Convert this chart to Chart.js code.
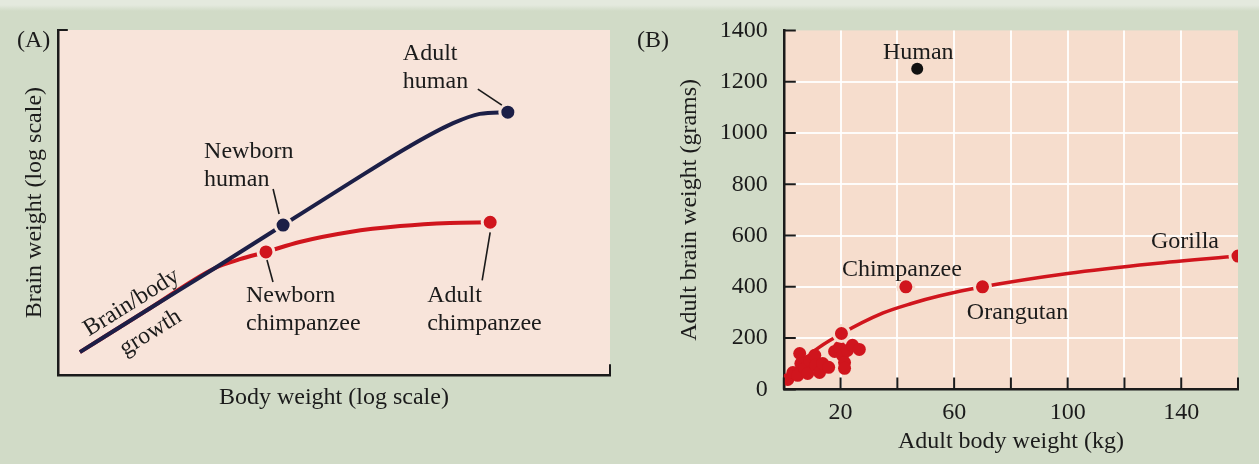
<!DOCTYPE html>
<html>
<head>
<meta charset="utf-8">
<script src="https://cdn.jsdelivr.net/npm/chart.js@4.4.1/dist/chart.umd.min.js"></script>
<style>
  html, body { margin: 0; padding: 0; }
  body {
    width: 1259px; height: 464px; overflow: hidden; position: relative;
    background: linear-gradient(to bottom, #e4e9de 0, #e4e9de 5px, rgba(0,0,0,0) 11px), #d1dbc7;
  }
  canvas { position: absolute; top: 0; }
  #growthChart { left: 0; }
  #primateChart { left: 625px; }
</style>
</head>
<body>
<canvas id="growthChart" width="625" height="464"></canvas>
<canvas id="primateChart" width="634" height="464"></canvas>
<script>
// Panel A - growth curves, arbitrary log units (the original has no tick values)
const humanGrowthX = [4, 16.7, 28.4, 40.8, 52.9, 63.8, 71.6, 76.4, 81.5];
const humanGrowthY = [6.7, 19.4, 31.0, 43.5, 55.7, 66.4, 73.0, 75.7, 76.2];
const chimpGrowthX = [4, 16.7, 28.4, 33.0, 37.7, 43.8, 52.9, 62.0, 71.0, 78.3];
const chimpGrowthY = [6.7, 19.4, 31.0, 33.6, 35.7, 38.6, 41.5, 43.2, 44.1, 44.3];
const humanStages = ["Newborn human", "Adult human"];
const humanStageX = [40.8, 81.5];
const humanStageY = [43.5, 76.2];
const chimpStages = ["Newborn chimpanzee", "Adult chimpanzee"];
const chimpStageX = [37.7, 78.3];
const chimpStageY = [35.7, 44.3];

// Panel B - adult brain weight (g) vs adult body weight (kg)
const otherPrimateBody = [1.4, 3.2, 4.9, 5.6, 6.0, 7.4, 8.4, 9.1, 10.9, 11.2, 12.6, 13.7, 15.8, 17.9, 19.6, 20.7, 21.4, 21.4, 22.4, 24.2, 26.6];
const otherPrimateBrain = [39, 66, 55, 140, 101, 82, 62, 113, 133, 94, 66, 101, 86, 148, 164, 133, 105, 82, 152, 172, 156];
const apeNames = ["", "Chimpanzee", "Orangutan", "Gorilla"];
const apeBody = [20.3, 43, 70, 160];
const apeBrain = [218, 400, 400, 520];
const humanBody = [47];
const humanBrain = [1250];
const fitBody = [1, 5, 11, 20, 35, 45, 55, 70, 100, 130, 160];
const fitBrain = [20, 85, 152, 215, 298, 335, 365, 400, 452, 490, 520];
const bodyTicks = [0, 20, 40, 60, 80, 100, 120, 140, 160];
const brainTicks = [0, 200, 400, 600, 800, 1000, 1200, 1400];

const FONT = '"Liberation Serif", "Times New Roman", serif';
const INK = '#1b1b1b';
const NAVY = '#1c1f47';
const RED = '#d0151d';

const pts = (xs, ys) => xs.map((x, i) => ({ x: x, y: ys[i] }));

// fills the plot area and writes the panel letter
const panelPlugin = {
  id: 'panel',
  beforeDraw(chart, args, opts) {
    const { ctx, chartArea: a } = chart;
    ctx.save();
    ctx.fillStyle = opts.fill;
    ctx.fillRect(a.left, a.top, a.right - a.left, a.bottom - a.top);
    ctx.fillStyle = INK;
    ctx.font = '24px ' + FONT;
    ctx.textBaseline = 'alphabetic';
    ctx.fillText(opts.tag, opts.tagX, 47);
    ctx.restore();
  }
};

// text labels and leader lines, placed relative to data points
const notesPlugin = {
  id: 'notes',
  afterDatasetsDraw(chart, args, opts) {
    const ctx = chart.ctx;
    const xs = chart.scales.x, ys = chart.scales.y;
    ctx.save();
    ctx.fillStyle = INK;
    ctx.strokeStyle = INK;
    ctx.font = '24px ' + FONT;
    ctx.textBaseline = 'alphabetic';
    opts.items.forEach(n => {
      const px = xs.getPixelForValue(n.x), py = ys.getPixelForValue(n.y);
      if (n.leader) {
        ctx.lineWidth = 1.6;
        ctx.beginPath();
        ctx.moveTo(px + n.leader[0], py + n.leader[1]);
        ctx.lineTo(px + n.leader[2], py + n.leader[3]);
        ctx.stroke();
      }
      ctx.save();
      ctx.translate(px + n.dx, py + n.dy);
      if (n.along) {
        const d = chart.getDatasetMeta(n.along).data;
        ctx.rotate(Math.atan2(d[2].y - d[0].y, d[2].x - d[0].x));
      }
      ctx.textAlign = n.align || 'left';
      n.lines.forEach((t, i) => ctx.fillText(t, 0, i * 28));
      ctx.restore();
    });
    ctx.restore();
  }
};

// inward tick marks (panel B) and axis end caps (panel A)
const ticksPlugin = {
  id: 'inTicks',
  afterDatasetsDraw(chart, args, opts) {
    const { ctx, chartArea: a } = chart;
    ctx.save();
    ctx.strokeStyle = INK;
    ctx.lineWidth = 2;
    ctx.beginPath();
    if (opts.caps) {
      ctx.moveTo(a.left, a.top); ctx.lineTo(a.left + 10, a.top);
      ctx.moveTo(a.right, a.bottom); ctx.lineTo(a.right, a.bottom - 11);
    } else {
      chart.scales.x.ticks.forEach(t => {
        const p = chart.scales.x.getPixelForValue(t.value);
        ctx.moveTo(p, a.bottom); ctx.lineTo(p, a.bottom - 12);
      });
      chart.scales.y.ticks.forEach(t => {
        const p = chart.scales.y.getPixelForValue(t.value);
        ctx.moveTo(a.left, p); ctx.lineTo(a.left + 12, p);
      });
    }
    ctx.stroke();
    ctx.restore();
  }
};

const titleFont = { family: FONT, size: 24 };

// Panel A
const growthChart = new Chart(document.getElementById('growthChart'), {
  type: 'scatter',
  data: {
    datasets: [
      { label: 'human stages', data: pts(humanStageX, humanStageY), backgroundColor: NAVY,
        borderColor: '#f8e4da', borderWidth: 3, pointRadius: 8 },
      { label: 'chimp stages', data: pts(chimpStageX, chimpStageY), backgroundColor: RED,
        borderColor: '#f8e4da', borderWidth: 3, pointRadius: 8 },
      { label: 'human', data: pts(humanGrowthX, humanGrowthY), showLine: true, pointRadius: 0,
        borderColor: NAVY, borderWidth: 4, cubicInterpolationMode: 'monotone' },
      { label: 'chimp', data: pts(chimpGrowthX, chimpGrowthY), showLine: true, pointRadius: 0,
        borderColor: RED, borderWidth: 4, cubicInterpolationMode: 'monotone' }
    ]
  },
  options: {
    responsive: false,
    animation: false,
    layout: { padding: { left: 16, top: 30, right: 15, bottom: 48 } },
    scales: {
      x: {
        min: 0, max: 100,
        ticks: { display: false },
        grid: { display: false, drawTicks: false },
        border: { display: true, color: INK, width: 2.5 },
        title: { display: true, text: 'Body weight (log scale)', color: INK, font: titleFont,
                 padding: { top: 8, bottom: 4 } }
      },
      y: {
        min: 0, max: 100,
        ticks: { display: false },
        grid: { display: false, drawTicks: false },
        border: { display: true, color: INK, width: 2.5 },
        title: { display: true, text: 'Brain weight (log scale)', color: INK, font: titleFont,
                 padding: { top: 4, bottom: 9 } }
      }
    },
    plugins: {
      legend: { display: false },
      tooltip: { enabled: false },
      panel: { fill: '#f8e4da', tag: '(A)', tagX: 17 },
      inTicks: { caps: true },
      notes: {
        items: [
          { x: humanStageX[0], y: humanStageY[0], lines: ['Newborn', 'human'], dx: -79, dy: -67,
            leader: [-10, -36, -4, -11] },
          { x: humanStageX[1], y: humanStageY[1], lines: ['Adult', 'human'], dx: -105, dy: -52,
            leader: [-30, -23, -6, -7] },
          { x: chimpStageX[0], y: chimpStageY[0], lines: ['Newborn', 'chimpanzee'], dx: -20, dy: 50,
            leader: [1, 8, 7, 30] },
          { x: chimpStageX[1], y: chimpStageY[1], lines: ['Adult', 'chimpanzee'], dx: -63, dy: 80,
            leader: [0, 10, -8, 58] },
          { x: humanGrowthX[0], y: humanGrowthY[0], lines: ['Brain/body'], dx: 55, dy: -44,
            align: 'center', along: 2 },
          { x: humanGrowthX[0], y: humanGrowthY[0], lines: ['growth'], dx: 74, dy: -14,
            align: 'center', along: 2 }
        ]
      }
    }
  },
  plugins: [panelPlugin, ticksPlugin, notesPlugin]
});

// Panel B
const primateChart = new Chart(document.getElementById('primateChart'), {
  type: 'scatter',
  data: {
    datasets: [
      { label: 'Human', data: pts(humanBody, humanBrain), backgroundColor: '#111111',
        borderWidth: 0, pointRadius: 6 },
      { label: 'apes', data: pts(apeBody, apeBrain), backgroundColor: RED,
        borderColor: '#f6ddcd', borderWidth: 3, pointRadius: 8 },
      { label: 'other primates', data: pts(otherPrimateBody, otherPrimateBrain), backgroundColor: RED,
        borderWidth: 0, pointRadius: 6.5 },
      { label: 'fit', data: pts(fitBody, fitBrain), showLine: true, pointRadius: 0,
        borderColor: RED, borderWidth: 3.5, cubicInterpolationMode: 'monotone' }
    ]
  },
  options: {
    responsive: false,
    animation: false,
    layout: { padding: { left: 46, top: 30, right: 21, bottom: 4 } },
    scales: {
      x: {
        min: bodyTicks[0], max: bodyTicks[bodyTicks.length - 1],
        afterBuildTicks: s => { s.ticks = bodyTicks.map(v => ({ value: v })); },
        ticks: { color: INK, font: titleFont, padding: 9,
                 callback: v => (v % 40 === 20 ? String(v) : '') },
        grid: { drawTicks: false, lineWidth: 2,
                color: c => (c.tick && c.tick.value > 0 && c.tick.value < 160 ? 'rgba(255,255,255,0.9)' : 'rgba(0,0,0,0)') },
        border: { display: true, color: INK, width: 2.5 },
        title: { display: true, text: 'Adult body weight (kg)', color: INK, font: titleFont,
                 padding: { top: -9, bottom: 4 } }
      },
      y: {
        min: brainTicks[0], max: brainTicks[brainTicks.length - 1],
        afterBuildTicks: s => { s.ticks = brainTicks.map(v => ({ value: v })); },
        ticks: { color: INK, font: titleFont, padding: 16, callback: v => String(v) },
        grid: { drawTicks: false, lineWidth: 2,
                color: c => (c.tick && c.tick.value > 0 && c.tick.value < 1400 ? 'rgba(255,255,255,0.9)' : 'rgba(0,0,0,0)') },
        border: { display: true, color: INK, width: 2.5 },
        title: { display: true, text: 'Adult brain weight (grams)', color: INK, font: titleFont,
                 padding: { top: 4, bottom: 0 } }
      }
    },
    plugins: {
      legend: { display: false },
      tooltip: { enabled: false },
      panel: { fill: '#f6ddcd', tag: '(B)', tagX: 12 },
      inTicks: { caps: false },
      notes: {
        items: [
          { x: humanBody[0], y: humanBrain[0], lines: ['Human'], dx: 1, dy: -10, align: 'center' },
          { x: apeBody[1], y: apeBrain[1], lines: [apeNames[1]], dx: -4, dy: -11, align: 'center' },
          { x: apeBody[2], y: apeBrain[2], lines: [apeNames[2]], dx: 35, dy: 32, align: 'center' },
          { x: apeBody[3], y: apeBrain[3], lines: [apeNames[3]], dx: -53, dy: -8, align: 'center' }
        ]
      }
    }
  },
  plugins: [panelPlugin, ticksPlugin, notesPlugin]
});
</script>
</body>
</html>
